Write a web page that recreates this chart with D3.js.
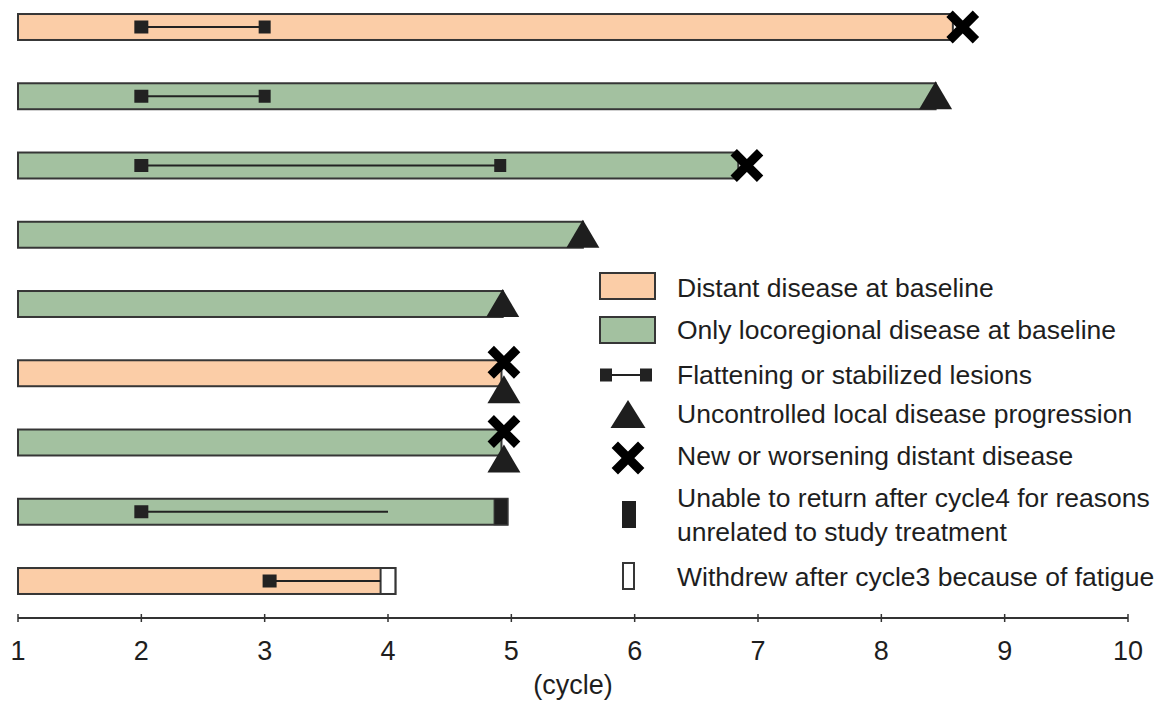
<!DOCTYPE html>
<html>
<head>
<meta charset="utf-8">
<script src="https://cdn.jsdelivr.net/npm/d3@7"></script>
<style>
  html, body { margin: 0; padding: 0; background: #fff; }
  text { font-family: "Liberation Sans", Arial, sans-serif; fill: #1e1e1e; }
</style>
</head>
<body>
<div id="chart"></div>
<script>
// ---- data (cycles) ----
const patients   = ["P1", "P2", "P3", "P4", "P5", "P6", "P7", "P8", "P9"];
const baseline   = ["distant", "local", "local", "local", "local", "distant", "local", "local", "distant"];
const endCycle   = [8.58, 8.44, 6.84, 5.58, 4.93, 4.92, 4.92, 4.97, 4.06];
const flatStart  = [2, 2, 2, null, null, null, null, 2, 3.04];
const flatEnd    = [3, 3, 4.91, null, null, null, null, 4.0, 3.94];
const flatEndCap = [true, true, true, false, false, false, false, false, false];
const progLocal  = [null, 8.44, null, 5.58, 4.93, 4.94, 4.94, null, null];   // triangle
const progDist   = [8.66, null, 6.91, null, null, 4.94, 4.94, null, null];   // X
const unableFrom = [null, null, null, null, null, null, null, 4.86, null];   // black block
const withdrewAt = [null, null, null, null, null, null, null, null, 3.94];   // white block
const xTicks     = [1, 2, 3, 4, 5, 6, 7, 8, 9, 10];
const axisTitle  = "(cycle)";
const legendLabels = [
  ["Distant disease at baseline"],
  ["Only locoregional disease at baseline"],
  ["Flattening or stabilized lesions"],
  ["Uncontrolled local disease progression"],
  ["New or worsening distant disease"],
  ["Unable to return after cycle4 for reasons", "unrelated to study treatment"],
  ["Withdrew after cycle3 because of fatigue"]
];

// ---- config ----
const W = 1159, H = 704;
const FILL = { distant: "#FBCDA7", local: "#A3C1A0" };
const STROKE = "#363636";

const svg = d3.select("#chart").append("svg")
  .attr("width", W).attr("height", H)
  .attr("viewBox", `0 0 ${W} ${H}`);

const x = d3.scaleLinear().domain([1, 10]).range([18, 1128]);
const y = d3.scaleBand().domain(patients)
  .range([27 - 69.25 / 2, 581 + 69.25 / 2])
  .paddingInner(0.625).paddingOuter(0.3125);
const bh = y.bandwidth();

const rows = patients.map((p, i) => ({
  id: p, base: baseline[i], end: endCycle[i],
  f0: flatStart[i], f1: flatEnd[i], cap: flatEndCap[i],
  tri: progLocal[i], cross: progDist[i],
  unable: unableFrom[i], withdrew: withdrewAt[i]
}));

// bars
svg.append("g").selectAll("rect")
  .data(rows).join("rect")
  .attr("x", x(1))
  .attr("y", d => y(d.id))
  .attr("width", d => x(d.end) - x(1))
  .attr("height", bh)
  .attr("fill", d => FILL[d.base])
  .attr("stroke", STROKE)
  .attr("stroke-width", 2);

// end blocks
svg.append("g").selectAll("rect")
  .data(rows.filter(d => d.unable != null)).join("rect")
  .attr("x", d => x(d.unable)).attr("y", d => y(d.id))
  .attr("width", d => x(d.end) - x(d.unable)).attr("height", bh)
  .attr("fill", "#1e1e1e").attr("stroke", STROKE).attr("stroke-width", 1);
svg.append("g").selectAll("rect")
  .data(rows.filter(d => d.withdrew != null)).join("rect")
  .attr("x", d => x(d.withdrew)).attr("y", d => y(d.id))
  .attr("width", d => x(d.end) - x(d.withdrew)).attr("height", bh)
  .attr("fill", "#fff").attr("stroke", STROKE).attr("stroke-width", 2);

// flattening segments
const flat = svg.append("g");
const fr = rows.filter(d => d.f0 != null);
const cy = d => y(d.id) + bh / 2;
flat.selectAll("line").data(fr).join("line")
  .attr("x1", d => x(d.f0)).attr("x2", d => x(d.f1))
  .attr("y1", cy).attr("y2", cy)
  .attr("stroke", "#222").attr("stroke-width", 2);
const sq = 14;
flat.selectAll("rect.s0").data(fr).join("rect").attr("class", "s0")
  .attr("x", d => x(d.f0) - sq / 2).attr("y", d => cy(d) - 6.5)
  .attr("width", sq).attr("height", 13).attr("fill", "#222");
flat.selectAll("rect.s1").data(fr.filter(d => d.cap)).join("rect").attr("class", "s1")
  .attr("x", d => x(d.f1) - sq / 2 + 1).attr("y", d => cy(d) - 6.5)
  .attr("width", 12).attr("height", 13).attr("fill", "#222");

// markers
const triPath = (w, h) => `M0,${-h}L${w / 2},0L${-w / 2},0Z`;
const crossPath = r => `M${-r},${-r}L${r},${r}M${-r},${r}L${r},${-r}`;

svg.append("g").selectAll("path")
  .data(rows.filter(d => d.tri != null)).join("path")
  .attr("d", triPath(33, 28))
  .attr("fill", "#1e1e1e")
  .attr("transform", d => {
    const both = d.cross != null;
    const base = both ? cy(d) + 30 : y(d.id) + bh;
    return `translate(${x(d.tri)},${base})`;
  });

svg.append("g").selectAll("path")
  .data(rows.filter(d => d.cross != null)).join("path")
  .attr("d", crossPath(13.2))
  .attr("fill", "none").attr("stroke", "#000")
  .attr("stroke-width", 9)
  .attr("transform", d => {
    const both = d.tri != null;
    return `translate(${x(d.cross)},${both ? cy(d) - 11 : cy(d)})`;
  });

// axis
const axY = 618;
const ax = svg.append("g").attr("transform", `translate(0,${axY})`);
ax.append("line").attr("x1", x(1)).attr("x2", x(10))
  .attr("stroke", "#333").attr("stroke-width", 2);
ax.selectAll("line.t").data(xTicks).join("line").attr("class", "t")
  .attr("x1", d => x(d)).attr("x2", d => x(d))
  .attr("y1", -4).attr("y2", 4)
  .attr("stroke", "#333").attr("stroke-width", 1.5);
ax.selectAll("text").data(xTicks).join("text")
  .attr("x", d => x(d)).attr("y", 42)
  .attr("text-anchor", "middle")
  .style("font-size", "27px")
  .text(d => d);
svg.append("text")
  .attr("x", (x(1) + x(10)) / 2).attr("y", 694)
  .attr("text-anchor", "middle")
  .style("font-size", "27px")
  .text(axisTitle);

// legend
const lg = svg.append("g");
const textX = 677, mx = 628;
const lineY = [288, 330, 375, 414, 456, 498, 577];
const lineGap = 34;

lg.append("rect").attr("x", 600).attr("y", 273).attr("width", 55).attr("height", 26)
  .attr("fill", FILL.distant).attr("stroke", STROKE).attr("stroke-width", 2);
lg.append("rect").attr("x", 600).attr("y", 317).attr("width", 55).attr("height", 26)
  .attr("fill", FILL.local).attr("stroke", STROKE).attr("stroke-width", 2);
lg.append("line").attr("x1", 606).attr("x2", 646).attr("y1", lineY[2]).attr("y2", lineY[2])
  .attr("stroke", "#222").attr("stroke-width", 2);
lg.append("rect").attr("x", 600).attr("y", lineY[2] - 6.5).attr("width", 12).attr("height", 13).attr("fill", "#222");
lg.append("rect").attr("x", 640).attr("y", lineY[2] - 6.5).attr("width", 12).attr("height", 13).attr("fill", "#222");
lg.append("path").attr("d", triPath(35, 28)).attr("fill", "#1e1e1e")
  .attr("transform", `translate(${mx},${lineY[3] + 14})`);
lg.append("path").attr("d", crossPath(13.2)).attr("fill", "none").attr("stroke", "#000")
  .attr("stroke-width", 9).attr("transform", `translate(${mx},${lineY[4] + 2})`);
lg.append("rect").attr("x", 622).attr("y", 501).attr("width", 14).attr("height", 27).attr("fill", "#1e1e1e");
lg.append("rect").attr("x", 623).attr("y", 563).attr("width", 11).attr("height", 26)
  .attr("fill", "#fff").attr("stroke", STROKE).attr("stroke-width", 2);

legendLabels.forEach((lines, i) => {
  lines.forEach((s, j) => {
    lg.append("text")
      .attr("x", textX).attr("y", lineY[i] + j * lineGap)
      .attr("dy", "0.35em")
      .style("font-size", "26.5px")
      .text(s);
  });
});
</script>
</body>
</html>
